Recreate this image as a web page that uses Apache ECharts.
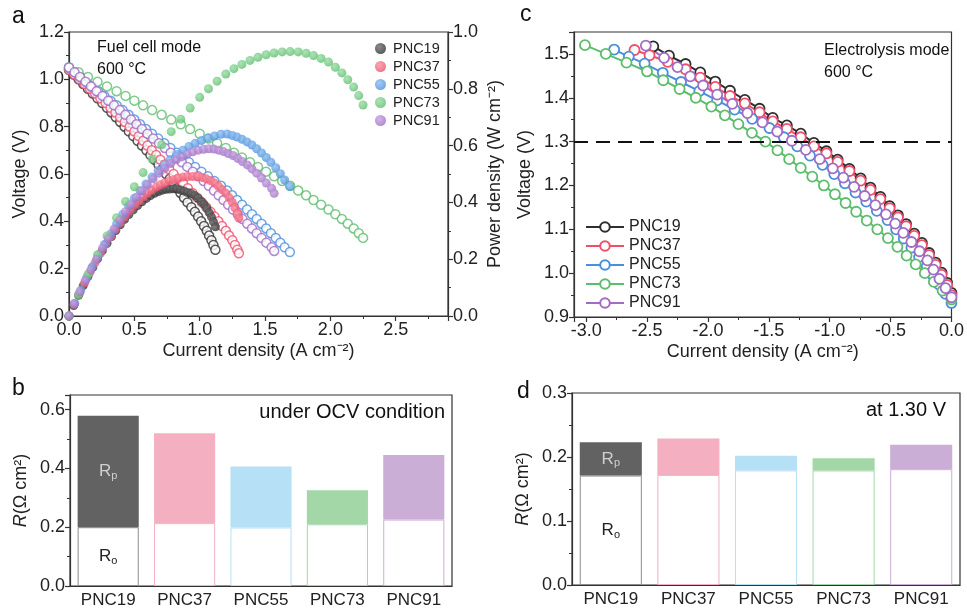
<!DOCTYPE html>
<html>
<head>
<meta charset="utf-8">
<title>PNC cells - fuel cell and electrolysis mode</title>
<script src="https://cdn.jsdelivr.net/npm/echarts/dist/echarts.min.js"></script>
<style>
  html, body { margin: 0; padding: 0; background: #fff; }
  #chart { width: 967px; height: 609px; }
</style>
</head>
<body>
<div id="chart"></div>
<script>
  const samples = ['PNC19', 'PNC37', 'PNC55', 'PNC73', 'PNC91'];

  // (a) fuel cell mode, 600 C: current density (A cm-2), voltage (V), power density (W cm-2)
  const fcI19 = [0, 0.036, 0.073, 0.109, 0.145, 0.182, 0.218, 0.255, 0.291, 0.325, 0.358, 0.392, 0.425, 0.458, 0.492, 0.525, 0.558, 0.592, 0.623, 0.654, 0.685, 0.714, 0.743, 0.771, 0.80, 0.827, 0.853, 0.88, 0.907, 0.936, 0.963, 0.988, 1.011, 1.033, 1.054, 1.072, 1.09, 1.105, 1.12];
  const fcV19 = [1.04, 1.02, 1.00, 0.98, 0.96, 0.94, 0.92, 0.90, 0.88, 0.86, 0.84, 0.82, 0.80, 0.78, 0.76, 0.74, 0.72, 0.70, 0.68, 0.66, 0.64, 0.62, 0.60, 0.58, 0.56, 0.54, 0.52, 0.50, 0.48, 0.46, 0.44, 0.42, 0.40, 0.38, 0.36, 0.34, 0.32, 0.30, 0.28];
  const fcP19 = [0, 0.037, 0.073, 0.107, 0.139, 0.171, 0.201, 0.230, 0.256, 0.280, 0.301, 0.321, 0.340, 0.357, 0.374, 0.389, 0.402, 0.414, 0.424, 0.432, 0.438, 0.443, 0.446, 0.447, 0.448, 0.447, 0.444, 0.440, 0.435, 0.431, 0.424, 0.415, 0.404, 0.393, 0.379, 0.364, 0.349, 0.332, 0.314];

  const fcI37 = [0, 0.04, 0.08, 0.12, 0.16, 0.20, 0.24, 0.28, 0.318, 0.355, 0.391, 0.427, 0.464, 0.50, 0.533, 0.567, 0.60, 0.633, 0.667, 0.70, 0.733, 0.767, 0.80, 0.836, 0.873, 0.909, 0.945, 0.982, 1.017, 1.05, 1.083, 1.114, 1.143, 1.171, 1.20, 1.225, 1.25, 1.27, 1.288, 1.30];
  const fcV37 = [1.04, 1.02, 1.00, 0.98, 0.96, 0.94, 0.92, 0.90, 0.88, 0.86, 0.84, 0.82, 0.80, 0.78, 0.76, 0.74, 0.72, 0.70, 0.68, 0.66, 0.64, 0.62, 0.60, 0.58, 0.56, 0.54, 0.52, 0.50, 0.48, 0.46, 0.44, 0.42, 0.40, 0.38, 0.36, 0.34, 0.32, 0.30, 0.28, 0.265];
  const fcP37 = [0, 0.041, 0.080, 0.118, 0.154, 0.188, 0.221, 0.252, 0.280, 0.305, 0.328, 0.350, 0.371, 0.390, 0.405, 0.420, 0.432, 0.443, 0.454, 0.462, 0.469, 0.476, 0.480, 0.485, 0.489, 0.491, 0.491, 0.491, 0.488, 0.483, 0.477, 0.468, 0.457, 0.445, 0.432, 0.417, 0.400, 0.381, 0.361, 0.345];

  const fcI55 = [0, 0.044, 0.089, 0.133, 0.178, 0.224, 0.271, 0.318, 0.365, 0.411, 0.456, 0.50, 0.544, 0.589, 0.635, 0.682, 0.729, 0.776, 0.824, 0.871, 0.918, 0.965, 1.013, 1.063, 1.113, 1.163, 1.21, 1.248, 1.286, 1.324, 1.362, 1.40, 1.436, 1.473, 1.509, 1.545, 1.582, 1.617, 1.65, 1.69];
  const fcV55 = [1.05, 1.03, 1.01, 0.99, 0.97, 0.95, 0.93, 0.91, 0.89, 0.87, 0.85, 0.83, 0.81, 0.79, 0.77, 0.75, 0.73, 0.71, 0.69, 0.67, 0.65, 0.63, 0.61, 0.59, 0.57, 0.55, 0.53, 0.51, 0.49, 0.47, 0.45, 0.43, 0.41, 0.39, 0.37, 0.35, 0.33, 0.31, 0.29, 0.27];
  const fcP55 = [0, 0.045, 0.090, 0.132, 0.173, 0.213, 0.252, 0.289, 0.325, 0.358, 0.388, 0.415, 0.441, 0.465, 0.489, 0.512, 0.532, 0.551, 0.569, 0.584, 0.597, 0.608, 0.618, 0.627, 0.634, 0.640, 0.641, 0.636, 0.630, 0.622, 0.613, 0.602, 0.589, 0.574, 0.558, 0.541, 0.522, 0.501, 0.479, 0.456];

  const fcI73 = [0, 0.073, 0.145, 0.218, 0.291, 0.364, 0.433, 0.50, 0.567, 0.636, 0.709, 0.782, 0.855, 0.927, 1.0, 1.067, 1.133, 1.20, 1.262, 1.323, 1.385, 1.446, 1.508, 1.569, 1.631, 1.692, 1.754, 1.814, 1.871, 1.929, 1.986, 2.038, 2.088, 2.133, 2.178, 2.217, 2.25];
  const fcV73 = [1.05, 1.03, 1.01, 0.99, 0.97, 0.95, 0.93, 0.91, 0.89, 0.87, 0.85, 0.83, 0.81, 0.79, 0.77, 0.75, 0.73, 0.71, 0.69, 0.67, 0.65, 0.63, 0.61, 0.59, 0.57, 0.55, 0.53, 0.51, 0.49, 0.47, 0.45, 0.43, 0.41, 0.39, 0.37, 0.35, 0.33];
  const fcP73 = [0, 0.075, 0.146, 0.216, 0.282, 0.346, 0.403, 0.455, 0.505, 0.553, 0.603, 0.649, 0.693, 0.732, 0.770, 0.800, 0.827, 0.852, 0.871, 0.886, 0.900, 0.911, 0.920, 0.926, 0.930, 0.931, 0.930, 0.925, 0.917, 0.907, 0.894, 0.876, 0.856, 0.832, 0.806, 0.776, 0.743];

  const fcI91 = [0, 0.042, 0.084, 0.126, 0.168, 0.211, 0.256, 0.30, 0.344, 0.389, 0.432, 0.474, 0.516, 0.558, 0.60, 0.644, 0.689, 0.733, 0.778, 0.821, 0.863, 0.905, 0.947, 0.989, 1.03, 1.07, 1.109, 1.145, 1.182, 1.218, 1.255, 1.291, 1.327, 1.364, 1.40, 1.436, 1.473, 1.51, 1.55, 1.57];
  const fcV91 = [1.05, 1.03, 1.01, 0.99, 0.97, 0.95, 0.93, 0.91, 0.89, 0.87, 0.85, 0.83, 0.81, 0.79, 0.77, 0.75, 0.73, 0.71, 0.69, 0.67, 0.65, 0.63, 0.61, 0.59, 0.57, 0.55, 0.53, 0.51, 0.49, 0.47, 0.45, 0.43, 0.41, 0.39, 0.37, 0.35, 0.33, 0.31, 0.29, 0.275];
  const fcP91 = [0, 0.043, 0.085, 0.125, 0.163, 0.200, 0.238, 0.273, 0.306, 0.338, 0.367, 0.393, 0.418, 0.441, 0.462, 0.483, 0.503, 0.520, 0.537, 0.550, 0.561, 0.570, 0.578, 0.584, 0.587, 0.589, 0.588, 0.584, 0.579, 0.572, 0.565, 0.555, 0.544, 0.532, 0.518, 0.503, 0.486, 0.468, 0.450, 0.432];

  // (c) electrolysis mode, 600 C: current density (A cm-2), voltage (V)
  const ecI19 = [0, -0.035, -0.081, -0.13, -0.184, -0.243, -0.306, -0.373, -0.44, -0.508, -0.584, -0.665, -0.746, -0.838, -0.935, -1.027, -1.13, -1.238, -1.352, -1.468, -1.576, -1.697, -1.819, -1.94, -2.063, -2.184, -2.32, -2.449];
  const ecV19 = [0.955, 0.978, 1.001, 1.024, 1.046, 1.069, 1.09, 1.112, 1.132, 1.153, 1.174, 1.195, 1.216, 1.238, 1.259, 1.278, 1.297, 1.318, 1.337, 1.354, 1.375, 1.395, 1.416, 1.437, 1.458, 1.477, 1.496, 1.517];
  const ecI37 = [0, -0.035, -0.081, -0.13, -0.184, -0.243, -0.306, -0.373, -0.44, -0.508, -0.584, -0.665, -0.746, -0.838, -0.935, -1.027, -1.13, -1.238, -1.352, -1.468, -1.576, -1.697, -1.819, -1.94, -2.063, -2.184, -2.33, -2.48, -2.603];
  const ecV37 = [0.95, 0.973, 0.996, 1.019, 1.041, 1.064, 1.085, 1.107, 1.127, 1.148, 1.169, 1.19, 1.211, 1.233, 1.254, 1.273, 1.289, 1.31, 1.329, 1.346, 1.367, 1.387, 1.404, 1.425, 1.446, 1.465, 1.482, 1.497, 1.509];
  const ecI55 = [0, -0.05, -0.101, -0.152, -0.203, -0.266, -0.329, -0.392, -0.455, -0.525, -0.613, -0.70, -0.788, -0.875, -0.963, -1.059, -1.162, -1.266, -1.377, -1.495, -1.637, -1.781, -1.925, -2.071, -2.221, -2.371, -2.52, -2.65, -2.77];
  const ecV55 = [0.932, 0.953, 0.974, 0.995, 1.016, 1.037, 1.058, 1.079, 1.10, 1.121, 1.142, 1.163, 1.184, 1.205, 1.226, 1.247, 1.268, 1.289, 1.31, 1.331, 1.352, 1.373, 1.394, 1.415, 1.436, 1.457, 1.478, 1.494, 1.51];
  const ecI73 = [0, -0.073, -0.145, -0.219, -0.294, -0.369, -0.444, -0.522, -0.609, -0.696, -0.783, -0.87, -0.957, -1.048, -1.143, -1.238, -1.333, -1.429, -1.528, -1.639, -1.75, -1.861, -1.972, -2.10, -2.233, -2.367, -2.50, -2.669, -2.839, -3.01];
  const ecV73 = [0.94, 0.96, 0.98, 1.00, 1.02, 1.04, 1.06, 1.08, 1.10, 1.12, 1.14, 1.16, 1.18, 1.20, 1.22, 1.24, 1.26, 1.28, 1.30, 1.32, 1.34, 1.36, 1.38, 1.40, 1.42, 1.44, 1.46, 1.48, 1.50, 1.52];
  const ecI91 = [0, -0.049, -0.099, -0.148, -0.198, -0.263, -0.329, -0.396, -0.462, -0.538, -0.625, -0.713, -0.80, -0.888, -0.975, -1.082, -1.196, -1.311, -1.431, -1.553, -1.676, -1.80, -1.924, -2.04, -2.145, -2.25, -2.36, -2.51];
  const ecV91 = [0.945, 0.966, 0.987, 1.008, 1.029, 1.05, 1.071, 1.092, 1.113, 1.134, 1.155, 1.176, 1.197, 1.218, 1.239, 1.26, 1.281, 1.302, 1.323, 1.344, 1.365, 1.386, 1.407, 1.428, 1.449, 1.47, 1.491, 1.519];

  // (b) resistances under OCV, (d) at 1.30 V  (ohm cm2)
  const rOhmOcv = [0.200, 0.214, 0.199, 0.210, 0.226];
  const rPolOcv = [0.379, 0.306, 0.208, 0.116, 0.220];
  const rOhm130 = [0.171, 0.172, 0.179, 0.179, 0.181];
  const rPol130 = [0.052, 0.057, 0.023, 0.019, 0.038];

  const font = '"Liberation Sans", Arial, sans-serif';
  const lineColors = ['#2e2e2e', '#ef4f6c', '#4b8fdc', '#5dbd6d', '#a06cc6'];
  const ballHi = ['#6e6e6e', '#f9909f', '#8cbcf0', '#98dca3', '#c6a4e0'];
  const barFill = ['#626262', '#f4b0c0', '#b6e0f6', '#a3d7a8', '#cbaed6'];
  const barEdge = ['#8c8c8c', '#f4b0c0', '#b6e0f6', '#a3d7a8', '#cbaed6'];

  const pts = (xs, ys) => xs.map((x, i) => [x, ys[i]]);
  const ball = k => ({
    type: 'radial', x: 0.38, y: 0.35, r: 0.7,
    colorStops: [{ offset: 0, color: ballHi[k] }, { offset: 1, color: lineColors[k] }]
  });

  const fcSets = [[fcI19, fcV19, fcP19], [fcI37, fcV37, fcP37], [fcI55, fcV55, fcP55], [fcI73, fcV73, fcP73], [fcI91, fcV91, fcP91]];
  const ecSets = [[ecI19, ecV19], [ecI37, ecV37], [ecI55, ecV55], [ecI73, ecV73], [ecI91, ecV91]];

  const axisCommon = {
    axisLine: { show: true, onZero: false, lineStyle: { color: '#333', width: 1.2 } },
    axisTick: { show: true, length: 5, lineStyle: { color: '#333', width: 1.2 } },
    minorTick: { show: true, splitNumber: 2, length: 3, lineStyle: { color: '#333', width: 1 } },
    splitLine: { show: false },
    nameLocation: 'middle',
    nameTextStyle: { color: '#222', fontSize: 18, fontFamily: font }
  };

  function valueAxis(extra, labelExtra) {
    return Object.assign({ type: 'value' }, axisCommon, {
      axisLabel: Object.assign({
        color: '#222', fontSize: 18, fontFamily: font, margin: 5,
        formatter: v => v.toFixed(1)
      }, labelExtra || {})
    }, extra);
  }

  function catAxis(gi) {
    return {
      type: 'category', gridIndex: gi, data: samples, position: 'bottom',
      axisLine: { lineStyle: { color: '#333', width: 1.2 } },
      axisTick: { alignWithLabel: true, length: 5, lineStyle: { color: '#333', width: 1.2 } },
      axisLabel: { color: '#222', fontSize: 17, fontFamily: font, margin: 6 },
      splitLine: { show: false }
    };
  }

  // small ticks between the categories
  function catTicks(gi) {
    return {
      type: 'category', gridIndex: gi, data: samples, position: 'bottom',
      axisLine: { show: false },
      axisTick: { length: 3, lineStyle: { color: '#333', width: 1 } },
      axisLabel: { show: false },
      splitLine: { show: false }
    };
  }

  const gridBox = { show: true, borderColor: '#333', borderWidth: 1.2, backgroundColor: 'transparent' };

  const series = [];

  fcSets.forEach(([I, V], k) => {
    series.push({
      name: samples[k] + '_v', type: 'scatter', xAxisIndex: 0, yAxisIndex: 0,
      symbol: 'circle', symbolSize: 9, data: pts(I, V), silent: true,
      itemStyle: { color: '#fff', borderColor: lineColors[k], borderWidth: 1.5 }
    });
  });
  fcSets.forEach(([I, V, P], k) => {
    series.push({
      name: samples[k], type: 'scatter', xAxisIndex: 0, yAxisIndex: 1,
      symbol: 'circle', symbolSize: 9, data: pts(I, P), silent: true,
      itemStyle: { color: ball(k) }
    });
  });

  ecSets.forEach(([I, V], k) => {
    const s = {
      name: samples[k] + '_c', type: 'line', xAxisIndex: 1, yAxisIndex: 2,
      data: pts(I, V), symbol: 'circle', symbolSize: 10, silent: true,
      itemStyle: { color: '#fff', borderColor: lineColors[k], borderWidth: 1.8 },
      lineStyle: { color: lineColors[k], width: 2 }
    };
    if (k === 0) {
      s.markLine = {
        silent: true, symbol: ['none', 'none'], label: { show: false },
        lineStyle: { color: '#111', type: [14, 8], width: 2 },
        data: [{ yAxis: 1.3 }]
      };
    }
    series.push(s);
  });

  const rLabel = (sub, color) => ({
    show: true, position: 'inside', formatter: '{m|R}{s|' + sub + '}',
    rich: {
      m: { fontSize: 17, color: color, fontFamily: font },
      s: { fontSize: 11, color: color, fontFamily: font, padding: [9, 0, 0, 0] }
    }
  });

  function barPair(ohm, pol, xi, yi, stack) {
    series.push({
      type: 'bar', xAxisIndex: xi, yAxisIndex: yi, stack: stack, barWidth: '80%', silent: true,
      data: ohm.map((v, k) => ({
        value: v,
        itemStyle: { color: '#fff', borderColor: barEdge[k], borderWidth: 1 },
        label: k === 0 ? rLabel('o', '#222') : { show: false }
      }))
    });
    series.push({
      type: 'bar', xAxisIndex: xi, yAxisIndex: yi, stack: stack, barWidth: '80%', silent: true,
      data: pol.map((v, k) => ({
        value: v,
        itemStyle: { color: barFill[k] },
        label: k === 0 ? rLabel('p', '#cfcfcf') : { show: false }
      }))
    });
  }
  barPair(rOhmOcv, rPolOcv, 2, 3, 'ocv');
  barPair(rOhm130, rPol130, 4, 4, 'v130');

  const txt = (text, pos, size) => Object.assign({
    type: 'text', silent: true,
    style: { text: text, fill: '#111', fontSize: size, fontFamily: font }
  }, pos);

  const option = {
    animation: false,
    backgroundColor: '#fff',
    grid: [
      Object.assign({ left: 69, top: 32, width: 379, height: 284 }, gridBox),
      Object.assign({ left: 574, top: 32, width: 382, height: 285 }, gridBox),
      Object.assign({ left: 70, top: 395, width: 382, height: 191 }, gridBox),
      Object.assign({ left: 572, top: 393, width: 388, height: 192 }, gridBox)
    ],
    xAxis: [
      valueAxis({ gridIndex: 0, min: 0, max: 2.9, interval: 0.5, name: 'Current density (A cm\u207B\u00B2)', nameGap: 26 },
        { showMaxLabel: false }),
      valueAxis({ gridIndex: 1, min: -3.1, max: 0, splitNumber: 6, name: 'Current density (A cm\u207B\u00B2)', nameGap: 26 },
        { showMinLabel: false }),
      catAxis(2), catTicks(2),
      catAxis(3), catTicks(3)
    ],
    yAxis: [
      valueAxis({ gridIndex: 0, min: 0, max: 1.2, interval: 0.2, name: 'Voltage (V)', nameGap: 40, nameRotate: 90 }),
      valueAxis({ gridIndex: 0, position: 'right', min: 0, max: 1.0, interval: 0.2, name: 'Power density (W cm\u207B\u00B2)', nameGap: 38, nameRotate: 90 }),
      valueAxis({ gridIndex: 1, min: 0.9, max: 1.55, interval: 0.1, name: 'Voltage (V)', nameGap: 40, nameRotate: 90 },
        { showMaxLabel: false }),
      valueAxis({ gridIndex: 2, min: 0, max: 0.65, interval: 0.2, name: '{i|R}(\u03A9 cm\u00B2)', nameGap: 40, nameRotate: 90,
        nameTextStyle: { color: '#222', fontSize: 18, fontFamily: font, rich: { i: { fontStyle: 'italic', fontSize: 18, fontFamily: font, color: '#222' } } } },
        { showMaxLabel: false }),
      valueAxis({ gridIndex: 3, min: 0, max: 0.3, interval: 0.1, name: '{i|R}(\u03A9 cm\u00B2)', nameGap: 40, nameRotate: 90,
        nameTextStyle: { color: '#222', fontSize: 18, fontFamily: font, rich: { i: { fontStyle: 'italic', fontSize: 18, fontFamily: font, color: '#222' } } } })
    ],
    legend: [
      {
        data: samples, orient: 'vertical', left: 370, top: 36, icon: 'circle',
        itemWidth: 15, itemHeight: 11, itemGap: 3, selectedMode: false,
        textStyle: { fontSize: 14.5, color: '#222', fontFamily: font }
      },
      {
        data: samples.map(s => s + '_c'), orient: 'vertical', left: 580, top: 214,
        itemWidth: 38, itemHeight: 12, itemGap: 3, selectedMode: false,
        formatter: n => n.replace('_c', ''),
        textStyle: { fontSize: 16, color: '#222', fontFamily: font }
      }
    ],
    graphic: [
      txt('a', { left: 12, top: 5 }, 23),
      txt('c', { left: 520, top: 3 }, 23),
      txt('b', { left: 12, top: 377 }, 23),
      txt('d', { left: 517, top: 380 }, 23),
      txt('Fuel cell mode', { left: 97, top: 40 }, 16),
      txt('600 \u00B0C', { left: 97, top: 62 }, 16),
      txt('Electrolysis mode', { left: 824, top: 43 }, 16),
      txt('600 \u00B0C', { left: 824, top: 65 }, 16),
      txt('under OCV condition', { right: 522, top: 402 }, 20),
      txt('at 1.30 V', { right: 21, top: 400 }, 20)
    ],
    series: series
  };

  const chart = echarts.init(document.getElementById('chart'), null, { renderer: 'canvas' });
  chart.setOption(option);
</script>
</body>
</html>
